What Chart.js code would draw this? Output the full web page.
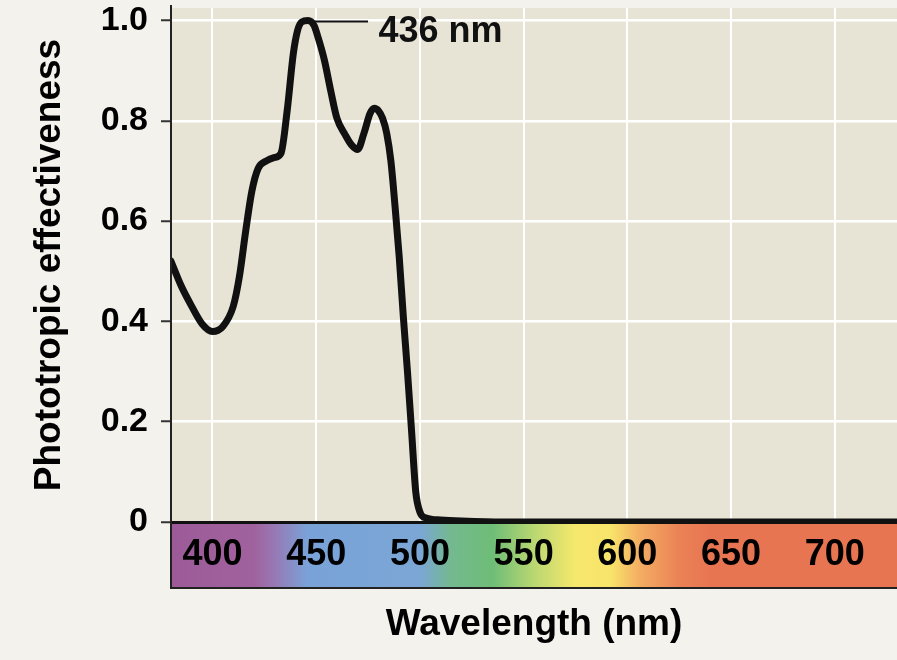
<!DOCTYPE html>
<html><head><meta charset="utf-8">
<script src="https://cdn.jsdelivr.net/npm/chart.js@4/dist/chart.umd.min.js"></script>
<style>html,body{margin:0;padding:0;background:#f3f2ec;}canvas{display:block;}</style>
</head><body>
<canvas id="c" width="897" height="660"></canvas>
<script>
// ---- data ----
const wavelengths   = [380,385,390,395,400,405,410,413,416,419,422,426,430,433,436,439,441,443,446,449,451,454,457,460,464,467,470,473,476,478,480,482,484,486,488,490,492,494,496,498,500,503,510,520,540,600,650,700,730];
const effectiveness = [0.52,0.47,0.43,0.395,0.38,0.39,0.43,0.49,0.58,0.66,0.705,0.72,0.727,0.735,0.82,0.935,0.98,0.997,1.0,0.99,0.965,0.92,0.86,0.805,0.772,0.752,0.743,0.775,0.815,0.825,0.82,0.805,0.775,0.72,0.63,0.53,0.41,0.3,0.18,0.06,0.02,0.008,0.004,0.002,0,0,0,0,0];
const xTicks = [400,450,500,550,600,650,700];
const yTicks = [0,0.2,0.4,0.6,0.8,1.0];
const xTitle = 'Wavelength (nm)';
const yTitle = 'Phototropic effectiveness';
const peakText = '436 nm';
const peakWavelength = 446;
const peakValue = 1.0;
const leaderEndWavelength = 475;
const labelWavelength = 480;
// visible-spectrum colour band under the axis
const spectrumStops  = [380,420,428,446,500,515,535,555,575,592,606,625,640,730];
const spectrumColors = ['#9c5b98','#a0629e','#9a74b0','#79a3d8','#7ba6d5','#74b98f','#6ebd77','#b9d771','#f6e86c','#f8e46a','#f3ad62','#eb8256','#e87552','#e87552'];

const FONT = "'Liberation Sans', Arial, Helvetica, sans-serif";
const BAR_H = 66;

const decor = {
  id: 'decor',
  beforeDraw(chart) {
    const {ctx, chartArea: a, scales: {x}} = chart;
    ctx.save();
    ctx.fillStyle = '#f3f2ec';
    ctx.fillRect(0, 0, chart.width, chart.height);
    ctx.fillStyle = '#e7e4d6';
    ctx.fillRect(a.left, a.top, a.right - a.left, a.bottom - a.top);
    const x0 = x.getPixelForValue(x.min), x1 = x.getPixelForValue(x.max);
    const g = ctx.createLinearGradient(x0, 0, x1, 0);
    spectrumStops.forEach((w, i) => g.addColorStop((w - x.min) / (x.max - x.min), spectrumColors[i]));
    ctx.fillStyle = g;
    ctx.fillRect(a.left, a.bottom, a.right - a.left, BAR_H);
    ctx.restore();
  },
  afterDatasetsDraw(chart) {
    const {ctx, scales: {x, y}} = chart;
    const px = x.getPixelForValue(peakWavelength), py = y.getPixelForValue(peakValue);
    ctx.save();
    ctx.strokeStyle = '#111';
    ctx.lineWidth = 2;
    ctx.beginPath();
    ctx.moveTo(px, py + 1);
    ctx.lineTo(x.getPixelForValue(leaderEndWavelength), py + 1);
    ctx.stroke();
    ctx.fillStyle = '#111';
    ctx.font = 'bold 36px ' + FONT;
    ctx.textBaseline = 'middle';
    ctx.textAlign = 'left';
    ctx.fillText(peakText, x.getPixelForValue(labelWavelength), py + 12);
    ctx.restore();
  },
  afterDraw(chart) {
    const {ctx, chartArea: a} = chart;
    ctx.save();
    ctx.strokeStyle = '#222';
    ctx.lineWidth = 2;
    ctx.beginPath();
    ctx.moveTo(a.left, a.top - 3);
    ctx.lineTo(a.left, a.bottom + BAR_H);
    ctx.lineTo(a.right + 2, a.bottom + BAR_H);
    ctx.stroke();
    ctx.restore();
  }
};

new Chart(document.getElementById('c'), {
  type: 'line',
  data: {
    datasets: [{
      data: wavelengths.map((w, i) => ({x: w, y: effectiveness[i]})),
      borderColor: '#111',
      borderWidth: 7,
      pointRadius: 0,
      cubicInterpolationMode: 'monotone',
      borderJoinStyle: 'round',
      borderCapStyle: 'round',
      fill: false
    }]
  },
  options: {
    responsive: false,
    animation: false,
    devicePixelRatio: 1,
    layout: {padding: {top: 8, right: 0, left: 0, bottom: 0}},
    plugins: {legend: {display: false}, tooltip: {enabled: false}},
    scales: {
      x: {
        type: 'linear',
        min: 380, max: 730,
        afterBuildTicks: s => { s.ticks = xTicks.map(v => ({value: v})); },
        afterFit: s => { s.height = 138; s.paddingLeft = 0; s.paddingRight = 0; },
        grid: {color: '#ffffff', lineWidth: 2, drawTicks: false},
        border: {display: true, color: '#111', width: 3},
        ticks: {
          color: '#000',
          padding: 11,
          font: {family: FONT, size: 36, weight: 'bold', lineHeight: 1.2},
          maxRotation: 0,
          callback: v => String(v)
        },
        title: {
          display: true, text: xTitle, color: '#000',
          font: {family: FONT, size: 37, weight: 'bold', lineHeight: 1.2},
          padding: {top: 0, bottom: 13}
        }
      },
      y: {
        type: 'linear',
        min: 0, max: 1.025,
        afterBuildTicks: s => { s.ticks = yTicks.map(v => ({value: v})); },
        afterFit: s => { s.width = 171; s.paddingTop = 0; s.paddingBottom = 0; },
        grid: {
          color: c => (c.tick && c.tick.value === 0) ? 'rgba(0,0,0,0)' : '#ffffff',
          lineWidth: 2.5,
          tickColor: '#333',
          tickLength: 10,
          tickWidth: 2
        },
        border: {display: true, color: '#222', width: 2},
        ticks: {
          color: '#000',
          padding: 13,
          font: {family: FONT, size: 34, weight: 'bold', lineHeight: 1.2},
          callback: v => v === 0 ? '0' : v.toFixed(1)
        },
        title: {
          display: true, text: yTitle, color: '#000',
          font: {family: FONT, size: 37, weight: 'bold', lineHeight: 1.2},
          padding: {top: 28, bottom: 0}
        }
      }
    }
  },
  plugins: [decor]
});
</script>
</body></html>
